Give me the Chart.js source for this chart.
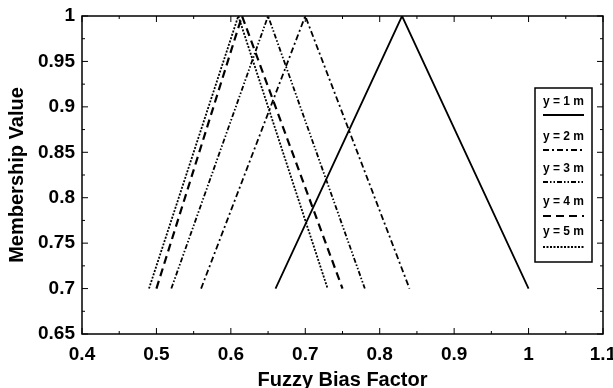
<!DOCTYPE html>
<html>
<head>
<meta charset="utf-8">
<script src="https://cdn.jsdelivr.net/npm/chart.js@4/dist/chart.umd.min.js"></script>
<style>
  body { margin: 0; background: #fff; }
  #chart { display: block; }
</style>
</head>
<body>
<canvas id="chart" width="613" height="388"></canvas>
<script>
// data
var seriesNames = ["y = 1 m", "y = 2 m", "y = 3 m", "y = 4 m", "y = 5 m"];
var xLeft  = [0.66, 0.56, 0.52, 0.50, 0.49];
var xPeak  = [0.83, 0.70, 0.65, 0.615, 0.61];
var xRight = [1.00, 0.84, 0.78, 0.75, 0.73];
var yShape = [0.7, 1, 0.7];

var xTicks = [0.4, 0.5, 0.6, 0.7, 0.8, 0.9, 1, 1.1];
var yTicks = [0.65, 0.7, 0.75, 0.8, 0.85, 0.9, 0.95, 1];

// line styles
var dashes = [[], [6, 3, 2, 3], [5, 2, 1.5, 2, 1.5, 2], [8, 5], [2, 1.5]];
var widths = [1.8, 1.8, 1.8, 2.2, 1.8];

var datasets = seriesNames.map(function (name, i) {
    var xs = [xLeft[i], xPeak[i], xRight[i]];
    return {
        label: name,
        data: xs.map(function (x, k) { return { x: x, y: yShape[k] }; }),
        borderColor: "#000",
        borderWidth: widths[i],
        borderDash: dashes[i],
        pointRadius: 0,
        tension: 0,
        fill: false
    };
});

function fmt(v) {
    return String(Number(v.toFixed(2)));
}

// inward ticks on all four sides + box
var frame = {
    id: "frame",
    afterDraw: function (chart) {
        var c = chart.ctx, a = chart.chartArea;
        var xs = chart.scales.x, ys = chart.scales.y;
        c.save();
        c.strokeStyle = "#000";
        c.lineWidth = 1.5;
        c.strokeRect(a.left, a.top, a.right - a.left, a.bottom - a.top);
        c.lineWidth = 1;
        c.beginPath();
        for (var i = 0; i <= 14; i++) {
            var px = xs.getPixelForValue(0.4 + i * 0.05);
            var len = i % 2 === 0 ? 6 : 3;
            c.moveTo(px, a.bottom); c.lineTo(px, a.bottom - len);
            c.moveTo(px, a.top); c.lineTo(px, a.top + len);
        }
        for (var j = 0; j <= 14; j++) {
            var py = ys.getPixelForValue(0.65 + j * 0.025);
            var l2 = j % 2 === 0 ? 6 : 3;
            c.moveTo(a.left, py); c.lineTo(a.left + l2, py);
            c.moveTo(a.right, py); c.lineTo(a.right - l2, py);
        }
        c.stroke();
        c.restore();
    }
};

// legend: text on top, line sample below
var boxLegend = {
    id: "boxLegend",
    afterDraw: function (chart) {
        var c = chart.ctx;
        var left = 535, top = 88, w = 57, h = 174;
        var textY = [102, 137, 169, 202, 232];
        var lineY = [115, 150, 182, 216, 247];
        c.save();
        c.fillStyle = "#fff";
        c.fillRect(left, top, w, h);
        c.strokeStyle = "#000";
        c.lineWidth = 1.5;
        c.strokeRect(left, top, w, h);
        c.fillStyle = "#000";
        c.font = "bold 12px 'Liberation Sans', Arial, sans-serif";
        c.textAlign = "center";
        c.textBaseline = "middle";
        chart.data.datasets.forEach(function (ds, i) {
            c.fillText(ds.label, left + w / 2, textY[i]);
            c.beginPath();
            c.lineWidth = ds.borderWidth;
            c.setLineDash(ds.borderDash);
            c.moveTo(left + 8, lineY[i]);
            c.lineTo(left + w - 8, lineY[i]);
            c.stroke();
            c.setLineDash([]);
        });
        c.restore();
    }
};

var font = { family: "'Liberation Sans', Arial, sans-serif", weight: "bold" };

new Chart(document.getElementById("chart"), {
    type: "line",
    data: { datasets: datasets },
    options: {
        responsive: false,
        animation: false,
        layout: { padding: { top: 16, right: 10, left: 0, bottom: 0 } },
        plugins: { legend: { display: false }, tooltip: { enabled: false } },
        scales: {
            x: {
                type: "linear",
                min: 0.4, max: 1.1,
                afterBuildTicks: function (s) { s.ticks = xTicks.map(function (v) { return { value: v }; }); },
                afterFit: function (s) { s.height = 54; s.paddingRight = 0; s.paddingLeft = 0; },
                grid: { display: false, drawTicks: false },
                border: { display: false },
                ticks: {
                    color: "#000", padding: 9,
                    font: { family: font.family, weight: "bold", size: 19 },
                    maxRotation: 0,
                    callback: function (v) { return fmt(v); }
                },
                title: {
                    display: true, text: "Fuzzy Bias Factor", color: "#000",
                    font: { family: font.family, weight: "bold", size: 20 },
                    padding: { top: 0, bottom: -4 }
                }
            },
            y: {
                min: 0.65, max: 1,
                afterBuildTicks: function (s) { s.ticks = yTicks.map(function (v) { return { value: v }; }); },
                afterFit: function (s) { s.width = 82; s.paddingTop = 0; s.paddingBottom = 0; },
                grid: { display: false, drawTicks: false },
                border: { display: false },
                ticks: {
                    color: "#000", padding: 7,
                    font: { family: font.family, weight: "bold", size: 19 },
                    callback: function (v) { return fmt(v); }
                },
                title: {
                    display: true, text: "Membership Value", color: "#000",
                    font: { family: font.family, weight: "bold", size: 20 },
                    padding: { top: 5, bottom: 0 }
                }
            }
        }
    },
    plugins: [frame, boxLegend]
});
</script>
</body>
</html>
